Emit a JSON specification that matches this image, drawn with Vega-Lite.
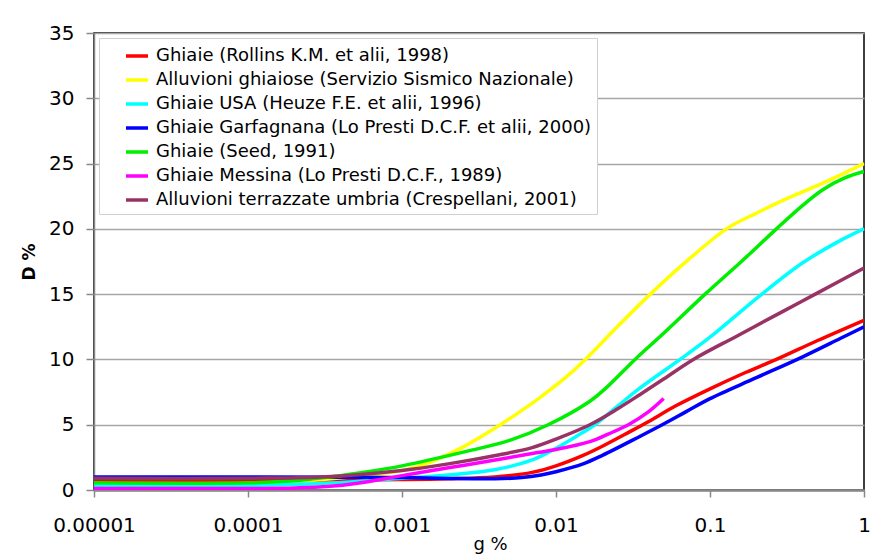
{
  "$schema": "https://vega.github.io/schema/vega-lite/v6.json",
  "width": 770,
  "height": 457,
  "autosize": "none",
  "padding": {"left": 94, "top": 33, "right": 29, "bottom": 70},
  "background": "white",
  "config": {
    "font": "DejaVu Sans",
    "view": {"stroke": "#000000", "strokeWidth": 1.5},
    "axis": {
      "labelFont": "DejaVu Sans",
      "labelFontSize": 20,
      "labelColor": "#000000",
      "tickColor": "#888888",
      "domainColor": "#888888",
      "gridColor": "#a6a6a6",
      "gridWidth": 1.5
    },
    "legend": {
      "labelFont": "DejaVu Sans",
      "labelFontSize": 18,
      "labelColor": "#000000"
    }
  },
  "data": {
    "values": [
      {"serie": "Ghiaie (Rollins K.M. et alii, 1998)", "g": 0.00001, "D": 0.75},
      {"serie": "Ghiaie (Rollins K.M. et alii, 1998)", "g": 0.0001, "D": 0.75},
      {"serie": "Ghiaie (Rollins K.M. et alii, 1998)", "g": 0.0003, "D": 0.76},
      {"serie": "Ghiaie (Rollins K.M. et alii, 1998)", "g": 0.001, "D": 0.8},
      {"serie": "Ghiaie (Rollins K.M. et alii, 1998)", "g": 0.002, "D": 0.86},
      {"serie": "Ghiaie (Rollins K.M. et alii, 1998)", "g": 0.004, "D": 1.0},
      {"serie": "Ghiaie (Rollins K.M. et alii, 1998)", "g": 0.007, "D": 1.35},
      {"serie": "Ghiaie (Rollins K.M. et alii, 1998)", "g": 0.01, "D": 1.85},
      {"serie": "Ghiaie (Rollins K.M. et alii, 1998)", "g": 0.015, "D": 2.65},
      {"serie": "Ghiaie (Rollins K.M. et alii, 1998)", "g": 0.02, "D": 3.35},
      {"serie": "Ghiaie (Rollins K.M. et alii, 1998)", "g": 0.03, "D": 4.45},
      {"serie": "Ghiaie (Rollins K.M. et alii, 1998)", "g": 0.04, "D": 5.25},
      {"serie": "Ghiaie (Rollins K.M. et alii, 1998)", "g": 0.06, "D": 6.45},
      {"serie": "Ghiaie (Rollins K.M. et alii, 1998)", "g": 0.1, "D": 7.75},
      {"serie": "Ghiaie (Rollins K.M. et alii, 1998)", "g": 0.17, "D": 9.0},
      {"serie": "Ghiaie (Rollins K.M. et alii, 1998)", "g": 0.27, "D": 10.0},
      {"serie": "Ghiaie (Rollins K.M. et alii, 1998)", "g": 0.5, "D": 11.45},
      {"serie": "Ghiaie (Rollins K.M. et alii, 1998)", "g": 1, "D": 13.0},

      {"serie": "Alluvioni ghiaiose (Servizio Sismico Nazionale)", "g": 0.00001, "D": 0.45},
      {"serie": "Alluvioni ghiaiose (Servizio Sismico Nazionale)", "g": 0.0001, "D": 0.45},
      {"serie": "Alluvioni ghiaiose (Servizio Sismico Nazionale)", "g": 0.0003, "D": 0.8},
      {"serie": "Alluvioni ghiaiose (Servizio Sismico Nazionale)", "g": 0.001, "D": 1.5},
      {"serie": "Alluvioni ghiaiose (Servizio Sismico Nazionale)", "g": 0.0015, "D": 2.1},
      {"serie": "Alluvioni ghiaiose (Servizio Sismico Nazionale)", "g": 0.0025, "D": 3.3},
      {"serie": "Alluvioni ghiaiose (Servizio Sismico Nazionale)", "g": 0.0041, "D": 4.8},
      {"serie": "Alluvioni ghiaiose (Servizio Sismico Nazionale)", "g": 0.006, "D": 6.1},
      {"serie": "Alluvioni ghiaiose (Servizio Sismico Nazionale)", "g": 0.0079, "D": 7.1},
      {"serie": "Alluvioni ghiaiose (Servizio Sismico Nazionale)", "g": 0.0115, "D": 8.6},
      {"serie": "Alluvioni ghiaiose (Servizio Sismico Nazionale)", "g": 0.0155, "D": 10.0},
      {"serie": "Alluvioni ghiaiose (Servizio Sismico Nazionale)", "g": 0.025, "D": 12.5},
      {"serie": "Alluvioni ghiaiose (Servizio Sismico Nazionale)", "g": 0.041, "D": 15.0},
      {"serie": "Alluvioni ghiaiose (Servizio Sismico Nazionale)", "g": 0.067, "D": 17.3},
      {"serie": "Alluvioni ghiaiose (Servizio Sismico Nazionale)", "g": 0.128, "D": 20.0},
      {"serie": "Alluvioni ghiaiose (Servizio Sismico Nazionale)", "g": 0.2, "D": 21.2},
      {"serie": "Alluvioni ghiaiose (Servizio Sismico Nazionale)", "g": 0.3, "D": 22.2},
      {"serie": "Alluvioni ghiaiose (Servizio Sismico Nazionale)", "g": 0.54, "D": 23.5},
      {"serie": "Alluvioni ghiaiose (Servizio Sismico Nazionale)", "g": 1, "D": 25.0},

      {"serie": "Ghiaie USA (Heuze F.E. et alii, 1996)", "g": 0.00001, "D": 0.35},
      {"serie": "Ghiaie USA (Heuze F.E. et alii, 1996)", "g": 0.0001, "D": 0.35},
      {"serie": "Ghiaie USA (Heuze F.E. et alii, 1996)", "g": 0.0003, "D": 0.5},
      {"serie": "Ghiaie USA (Heuze F.E. et alii, 1996)", "g": 0.001, "D": 0.9},
      {"serie": "Ghiaie USA (Heuze F.E. et alii, 1996)", "g": 0.002, "D": 1.15},
      {"serie": "Ghiaie USA (Heuze F.E. et alii, 1996)", "g": 0.004, "D": 1.55},
      {"serie": "Ghiaie USA (Heuze F.E. et alii, 1996)", "g": 0.007, "D": 2.3},
      {"serie": "Ghiaie USA (Heuze F.E. et alii, 1996)", "g": 0.01, "D": 3.2},
      {"serie": "Ghiaie USA (Heuze F.E. et alii, 1996)", "g": 0.0135, "D": 4.1},
      {"serie": "Ghiaie USA (Heuze F.E. et alii, 1996)", "g": 0.0179, "D": 5.0},
      {"serie": "Ghiaie USA (Heuze F.E. et alii, 1996)", "g": 0.025, "D": 6.4},
      {"serie": "Ghiaie USA (Heuze F.E. et alii, 1996)", "g": 0.035, "D": 7.8},
      {"serie": "Ghiaie USA (Heuze F.E. et alii, 1996)", "g": 0.064, "D": 10.0},
      {"serie": "Ghiaie USA (Heuze F.E. et alii, 1996)", "g": 0.1, "D": 11.7},
      {"serie": "Ghiaie USA (Heuze F.E. et alii, 1996)", "g": 0.217, "D": 15.0},
      {"serie": "Ghiaie USA (Heuze F.E. et alii, 1996)", "g": 0.4, "D": 17.4},
      {"serie": "Ghiaie USA (Heuze F.E. et alii, 1996)", "g": 0.7, "D": 19.1},
      {"serie": "Ghiaie USA (Heuze F.E. et alii, 1996)", "g": 1, "D": 20.0},

      {"serie": "Ghiaie Garfagnana (Lo Presti D.C.F. et alii, 2000)", "g": 0.00001, "D": 1.0},
      {"serie": "Ghiaie Garfagnana (Lo Presti D.C.F. et alii, 2000)", "g": 0.0001, "D": 1.0},
      {"serie": "Ghiaie Garfagnana (Lo Presti D.C.F. et alii, 2000)", "g": 0.0005, "D": 0.98},
      {"serie": "Ghiaie Garfagnana (Lo Presti D.C.F. et alii, 2000)", "g": 0.001, "D": 0.95},
      {"serie": "Ghiaie Garfagnana (Lo Presti D.C.F. et alii, 2000)", "g": 0.002, "D": 0.88},
      {"serie": "Ghiaie Garfagnana (Lo Presti D.C.F. et alii, 2000)", "g": 0.004, "D": 0.86},
      {"serie": "Ghiaie Garfagnana (Lo Presti D.C.F. et alii, 2000)", "g": 0.006, "D": 0.95},
      {"serie": "Ghiaie Garfagnana (Lo Presti D.C.F. et alii, 2000)", "g": 0.008, "D": 1.15},
      {"serie": "Ghiaie Garfagnana (Lo Presti D.C.F. et alii, 2000)", "g": 0.01, "D": 1.4},
      {"serie": "Ghiaie Garfagnana (Lo Presti D.C.F. et alii, 2000)", "g": 0.015, "D": 2.0},
      {"serie": "Ghiaie Garfagnana (Lo Presti D.C.F. et alii, 2000)", "g": 0.02, "D": 2.65},
      {"serie": "Ghiaie Garfagnana (Lo Presti D.C.F. et alii, 2000)", "g": 0.035, "D": 4.1},
      {"serie": "Ghiaie Garfagnana (Lo Presti D.C.F. et alii, 2000)", "g": 0.05, "D": 5.05},
      {"serie": "Ghiaie Garfagnana (Lo Presti D.C.F. et alii, 2000)", "g": 0.07, "D": 6.0},
      {"serie": "Ghiaie Garfagnana (Lo Presti D.C.F. et alii, 2000)", "g": 0.1, "D": 7.0},
      {"serie": "Ghiaie Garfagnana (Lo Presti D.C.F. et alii, 2000)", "g": 0.2, "D": 8.6},
      {"serie": "Ghiaie Garfagnana (Lo Presti D.C.F. et alii, 2000)", "g": 0.4, "D": 10.2},
      {"serie": "Ghiaie Garfagnana (Lo Presti D.C.F. et alii, 2000)", "g": 0.7, "D": 11.6},
      {"serie": "Ghiaie Garfagnana (Lo Presti D.C.F. et alii, 2000)", "g": 1, "D": 12.5},

      {"serie": "Ghiaie (Seed, 1991)", "g": 0.00001, "D": 0.55},
      {"serie": "Ghiaie (Seed, 1991)", "g": 0.0001, "D": 0.55},
      {"serie": "Ghiaie (Seed, 1991)", "g": 0.0002, "D": 0.7},
      {"serie": "Ghiaie (Seed, 1991)", "g": 0.00034, "D": 1.0},
      {"serie": "Ghiaie (Seed, 1991)", "g": 0.0006, "D": 1.4},
      {"serie": "Ghiaie (Seed, 1991)", "g": 0.001, "D": 1.85},
      {"serie": "Ghiaie (Seed, 1991)", "g": 0.0025, "D": 2.9},
      {"serie": "Ghiaie (Seed, 1991)", "g": 0.005, "D": 3.8},
      {"serie": "Ghiaie (Seed, 1991)", "g": 0.0089, "D": 5.0},
      {"serie": "Ghiaie (Seed, 1991)", "g": 0.0166, "D": 6.8},
      {"serie": "Ghiaie (Seed, 1991)", "g": 0.0215, "D": 7.9},
      {"serie": "Ghiaie (Seed, 1991)", "g": 0.0326, "D": 10.0},
      {"serie": "Ghiaie (Seed, 1991)", "g": 0.05, "D": 12.0},
      {"serie": "Ghiaie (Seed, 1991)", "g": 0.093, "D": 15.0},
      {"serie": "Ghiaie (Seed, 1991)", "g": 0.16, "D": 17.5},
      {"serie": "Ghiaie (Seed, 1991)", "g": 0.27, "D": 20.0},
      {"serie": "Ghiaie (Seed, 1991)", "g": 0.4, "D": 21.8},
      {"serie": "Ghiaie (Seed, 1991)", "g": 0.54, "D": 23.0},
      {"serie": "Ghiaie (Seed, 1991)", "g": 0.75, "D": 23.9},
      {"serie": "Ghiaie (Seed, 1991)", "g": 1, "D": 24.4},

      {"serie": "Ghiaie Messina (Lo Presti D.C.F., 1989)", "g": 0.00001, "D": 0.12},
      {"serie": "Ghiaie Messina (Lo Presti D.C.F., 1989)", "g": 0.0001, "D": 0.12},
      {"serie": "Ghiaie Messina (Lo Presti D.C.F., 1989)", "g": 0.0002, "D": 0.15},
      {"serie": "Ghiaie Messina (Lo Presti D.C.F., 1989)", "g": 0.00034, "D": 0.28},
      {"serie": "Ghiaie Messina (Lo Presti D.C.F., 1989)", "g": 0.0005, "D": 0.5},
      {"serie": "Ghiaie Messina (Lo Presti D.C.F., 1989)", "g": 0.001, "D": 1.1},
      {"serie": "Ghiaie Messina (Lo Presti D.C.F., 1989)", "g": 0.002, "D": 1.7},
      {"serie": "Ghiaie Messina (Lo Presti D.C.F., 1989)", "g": 0.0043, "D": 2.35},
      {"serie": "Ghiaie Messina (Lo Presti D.C.F., 1989)", "g": 0.007, "D": 2.8},
      {"serie": "Ghiaie Messina (Lo Presti D.C.F., 1989)", "g": 0.01, "D": 3.1},
      {"serie": "Ghiaie Messina (Lo Presti D.C.F., 1989)", "g": 0.0166, "D": 3.7},
      {"serie": "Ghiaie Messina (Lo Presti D.C.F., 1989)", "g": 0.022, "D": 4.3},
      {"serie": "Ghiaie Messina (Lo Presti D.C.F., 1989)", "g": 0.0295, "D": 5.0},
      {"serie": "Ghiaie Messina (Lo Presti D.C.F., 1989)", "g": 0.04, "D": 6.0},
      {"serie": "Ghiaie Messina (Lo Presti D.C.F., 1989)", "g": 0.05, "D": 7.0},

      {"serie": "Alluvioni terrazzate umbria (Crespellani, 2001)", "g": 0.00001, "D": 0.9},
      {"serie": "Alluvioni terrazzate umbria (Crespellani, 2001)", "g": 0.0001, "D": 0.9},
      {"serie": "Alluvioni terrazzate umbria (Crespellani, 2001)", "g": 0.0003, "D": 1.0},
      {"serie": "Alluvioni terrazzate umbria (Crespellani, 2001)", "g": 0.001, "D": 1.5},
      {"serie": "Alluvioni terrazzate umbria (Crespellani, 2001)", "g": 0.002, "D": 2.0},
      {"serie": "Alluvioni terrazzate umbria (Crespellani, 2001)", "g": 0.0043, "D": 2.7},
      {"serie": "Alluvioni terrazzate umbria (Crespellani, 2001)", "g": 0.007, "D": 3.25},
      {"serie": "Alluvioni terrazzate umbria (Crespellani, 2001)", "g": 0.01, "D": 3.9},
      {"serie": "Alluvioni terrazzate umbria (Crespellani, 2001)", "g": 0.0166, "D": 5.0},
      {"serie": "Alluvioni terrazzate umbria (Crespellani, 2001)", "g": 0.025, "D": 6.2},
      {"serie": "Alluvioni terrazzate umbria (Crespellani, 2001)", "g": 0.035, "D": 7.3},
      {"serie": "Alluvioni terrazzate umbria (Crespellani, 2001)", "g": 0.05, "D": 8.5},
      {"serie": "Alluvioni terrazzate umbria (Crespellani, 2001)", "g": 0.078, "D": 10.0},
      {"serie": "Alluvioni terrazzate umbria (Crespellani, 2001)", "g": 0.15, "D": 11.8},
      {"serie": "Alluvioni terrazzate umbria (Crespellani, 2001)", "g": 0.3, "D": 13.7},
      {"serie": "Alluvioni terrazzate umbria (Crespellani, 2001)", "g": 0.5, "D": 15.1},
      {"serie": "Alluvioni terrazzate umbria (Crespellani, 2001)", "g": 1, "D": 17.0}
    ]
  },
  "mark": {"type": "line", "interpolate": "catmull-rom", "strokeWidth": 3.5, "clip": true},
  "encoding": {
    "x": {
      "field": "g",
      "type": "quantitative",
      "scale": {"type": "log", "domain": [0.00001, 1], "nice": false},
      "axis": {
        "title": "g %",
        "titleFont": "DejaVu Sans",
        "titleFontSize": 18,
        "titleFontWeight": "normal",
        "titleColor": "#000000",
        "titleX": 396,
        "titlePadding": 0,
        "values": [0.00001, 0.0001, 0.001, 0.01, 0.1, 1],
        "format": ".5~f",
        "grid": false,
        "tickSize": 7,
        "tickWidth": 1.5,
        "labelPadding": 18,
        "domainWidth": 2.5,
        "labelFlush": false
      }
    },
    "y": {
      "field": "D",
      "type": "quantitative",
      "scale": {"domain": [0, 35], "nice": false},
      "axis": {
        "title": "D %",
        "titleFont": "DejaVu Sans",
        "titleFontSize": 17,
        "titleFontWeight": "bold",
        "titleColor": "#000000",
        "titlePadding": 10,
        "values": [0, 5, 10, 15, 20, 25, 30, 35],
        "tickSize": 8,
        "tickWidth": 1.5,
        "labelPadding": 12,
        "domainWidth": 1.5,
        "grid": true
      }
    },
    "color": {
      "field": "serie",
      "type": "nominal",
      "sort": null,
      "scale": {
        "domain": [
          "Ghiaie (Rollins K.M. et alii, 1998)",
          "Alluvioni ghiaiose (Servizio Sismico Nazionale)",
          "Ghiaie USA (Heuze F.E. et alii, 1996)",
          "Ghiaie Garfagnana (Lo Presti D.C.F. et alii, 2000)",
          "Ghiaie (Seed, 1991)",
          "Ghiaie Messina (Lo Presti D.C.F., 1989)",
          "Alluvioni terrazzate umbria (Crespellani, 2001)"
        ],
        "range": ["#ff0000", "#ffff00", "#00ffff", "#0000ff", "#00ee00", "#ff00ff", "#993366"]
      },
      "legend": {
        "title": null,
        "orient": "top-left",
        "offset": 5,
        "padding": 5,
        "fillColor": "#ffffff",
        "strokeColor": "#d0d0d0",
        "symbolType": "stroke",
        "symbolSize": 484,
        "symbolStrokeWidth": 3.5,
        "symbolOffset": 20,
        "labelOffset": 6,
        "labelLimit": 0,
        "rowPadding": 2
      }
    }
  }
}
